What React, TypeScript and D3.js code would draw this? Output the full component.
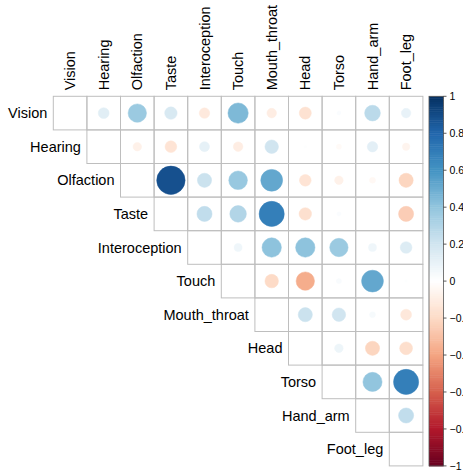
import React from "react";
import * as d3 from "d3";

const variables = ["Vision", "Hearing", "Olfaction", "Taste", "Interoception", "Touch", "Mouth_throat", "Head", "Torso", "Hand_arm", "Foot_leg"];

// upper-triangle correlations, row i lists values for columns i+1..10
const rowVision = [0.13, 0.37, 0.17, -0.12, 0.45, -0.1, -0.16, 0.02, 0.27, 0.1];
const rowHearing = [-0.08, -0.15, 0.11, -0.1, 0.2, 0.01, -0.03, 0.12, -0.06];
const rowOlfaction = [0.88, 0.22, 0.38, 0.52, -0.15, -0.08, -0.04, -0.22];
const rowTaste = [0.25, 0.3, 0.69, -0.17, 0.02, 0.0, -0.25];
const rowInteroception = [0.07, 0.41, 0.41, 0.37, 0.07, 0.15];
const rowTouch = [-0.2, -0.37, 0.03, 0.52, 0.01];
const rowMouth = [0.22, 0.2, 0.04, -0.13];
const rowHead = [0.08, -0.22, -0.18];
const rowTorso = [0.4, 0.69];
const rowHand = [0.25];
const rows = [rowVision, rowHearing, rowOlfaction, rowTaste, rowInteroception, rowTouch, rowMouth, rowHead, rowTorso, rowHand, []];

const legendTicks = [1, 0.8, 0.6, 0.4, 0.2, 0, -0.2, -0.4, -0.6, -0.8, -1];
const paletteColors = ["#67001F", "#B2182B", "#D6604D", "#F4A582", "#FDDBC7", "#FFFFFF", "#D1E5F0", "#92C5DE", "#4393C3", "#2166AC", "#053061"];

export default function App() {
  const W = 463, H = 474;
  const cell = 33.6;
  const x0 = 53.3, y0 = 96.3;
  const n = variables.length;
  const xs = d3.scaleBand().domain(variables).range([x0, x0 + n * cell]).padding(0);
  const ys = d3.scaleBand().domain(variables).range([y0, y0 + n * cell]).padding(0);
  const color = d3
    .scaleLinear<string>()
    .domain(d3.range(11).map((i) => -1 + i * 0.2))
    .range(paletteColors)
    .interpolate(d3.interpolateRgb);
  const rad = (v: number) => (0.9 * cell * Math.sqrt(Math.abs(v))) / 2;

  const cells: { i: number; j: number; v: number }[] = [];
  rows.forEach((r, i) => {
    cells.push({ i, j: i, v: 0 });
    r.forEach((v, k) => cells.push({ i, j: i + 1 + k, v }));
  });

  const font = "Liberation Sans, Arial, Helvetica, sans-serif";
  const barX = 429, barW = 14.5;
  const barY0 = y0, barY1 = y0 + n * cell;
  const ly = d3.scaleLinear().domain([1, -1]).range([barY0, barY1]);
  const steps = d3.range(200);

  return (
    <svg width={W} height={H} style={{ position: "absolute", left: 0, top: 0, background: "#fff" }} fontFamily={font}>
      {cells.map((c) => (
        <rect
          key={`g${c.i}-${c.j}`}
          x={xs(variables[c.j])!}
          y={ys(variables[c.i])!}
          width={cell}
          height={cell}
          fill="none"
          stroke="#BEBEBE"
          strokeWidth={1}
        />
      ))}
      {cells.map((c) =>
        c.v === 0 ? null : (
          <circle
            key={`c${c.i}-${c.j}`}
            cx={xs(variables[c.j])! + cell / 2}
            cy={ys(variables[c.i])! + cell / 2}
            r={rad(c.v)}
            fill={color(c.v)}
            stroke={color(c.v)}
            strokeWidth={0.5}
          />
        )
      )}
      {variables.map((v, i) => (
        <text
          key={`rl${v}`}
          x={xs(v)! - 6}
          y={ys(v)! + cell / 2}
          textAnchor="end"
          dominantBaseline="central"
          fontSize={14.5}
          fill="#000"
        >
          {v}
        </text>
      ))}
      {variables.map((v) => (
        <text
          key={`cl${v}`}
          transform={`translate(${xs(v)! + cell / 2},${y0 - 6}) rotate(-90)`}
          textAnchor="start"
          dominantBaseline="central"
          fontSize={14.5}
          fill="#000"
        >
          {v}
        </text>
      ))}
      {steps.map((s) => {
        const a = 1 - (s / 200) * 2;
        const b = 1 - ((s + 1) / 200) * 2;
        return (
          <rect
            key={`lb${s}`}
            x={barX}
            y={ly(a)}
            width={barW}
            height={ly(b) - ly(a) + 0.5}
            fill={color((a + b) / 2)}
          />
        );
      })}
      <rect x={barX} y={barY0} width={barW} height={barY1 - barY0} fill="none" stroke="#555" strokeWidth={0.8} />
      {legendTicks.map((t) => (
        <g key={`lt${t}`}>
          <line x1={barX + barW} x2={barX + barW + 3} y1={ly(t)} y2={ly(t)} stroke="#333" strokeWidth={0.8} />
          <text x={barX + barW + 6} y={ly(t)} dominantBaseline="central" fontSize={10.5} fill="#000">
            {t < 0 ? `\u2212${Math.abs(t)}` : `${t}`}
          </text>
        </g>
      ))}
    </svg>
  );
}
